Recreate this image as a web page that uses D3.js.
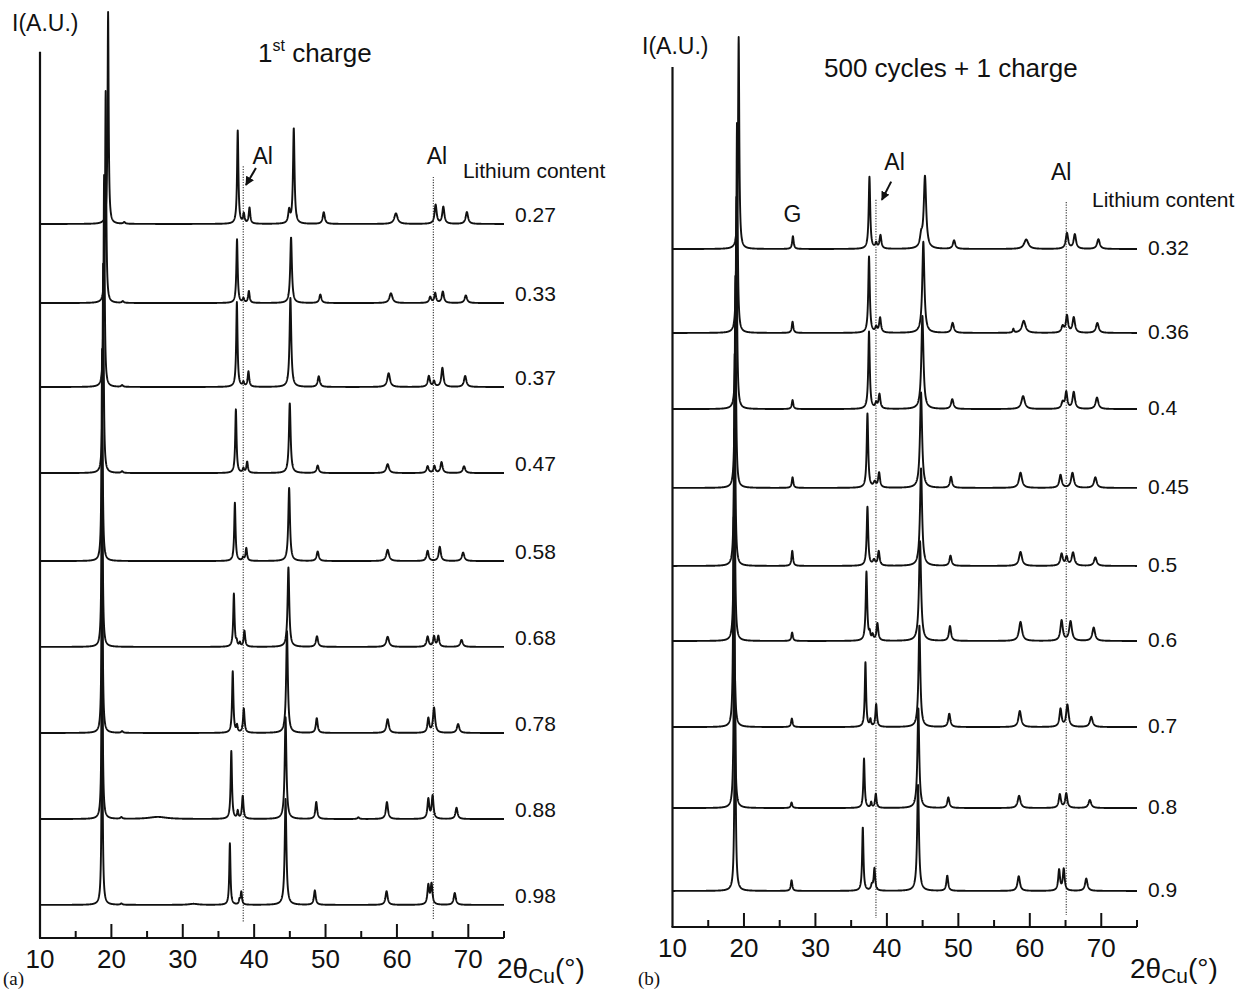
<!DOCTYPE html>
<html>
<head>
<meta charset="utf-8">
<script src="https://cdn.jsdelivr.net/npm/d3@7"></script>
<style>
  body { margin: 0; background: #fff; }
  svg { display: block; }
  text { font-family: "Liberation Sans", Arial, Helvetica, sans-serif; fill: #111; }
</style>
</head>
<body>
<svg id="chart" width="1243" height="991"></svg>
<script>
// ---- data ----
// peaks: [2theta (deg), height (A.U.), fwhm (deg)]
const firstChargeLi = ["0.27", "0.33", "0.37", "0.47", "0.58", "0.68", "0.78", "0.88", "0.98"];
const firstChargeOffset = [336.8, 299.5, 259.9, 219.3, 177.8, 137.3, 96.7, 56.1, 15.6];
const firstChargePeaks = [
  [[19.54, 100, 0.18], [21.8, 0.8, 0.3], [37.7, 44, 0.22], [38.55, 4.5, 0.25], [39.35, 7.5, 0.25], [44.9, 6, 0.3], [45.55, 45, 0.25], [49.75, 5.5, 0.35], [59.86, 5, 0.55], [65.42, 9, 0.35], [66.5, 8, 0.35], [69.8, 5.6, 0.4]],
  [[19.2, 100, 0.18], [21.6, 0.8, 0.3], [37.6, 30, 0.22], [38.5, 2, 0.25], [39.26, 5.5, 0.25], [45.17, 31, 0.28], [49.27, 4, 0.35], [59.16, 4.6, 0.5], [64.66, 2.8, 0.35], [65.36, 4.6, 0.3], [66.43, 5.4, 0.35], [69.65, 3.6, 0.4]],
  [[18.98, 100, 0.18], [21.5, 0.8, 0.3], [37.58, 40, 0.22], [38.5, 2, 0.25], [39.2, 7.2, 0.25], [45.08, 42, 0.28], [49.05, 5, 0.35], [58.84, 6.5, 0.45], [64.47, 5.1, 0.35], [65.2, 2.6, 0.3], [66.37, 9, 0.35], [69.56, 5.2, 0.4]],
  [[18.85, 100, 0.18], [21.5, 0.8, 0.3], [37.44, 30, 0.22], [38.5, 2, 0.25], [39.02, 5.2, 0.25], [44.99, 33, 0.28], [48.9, 3.5, 0.35], [58.7, 4.2, 0.45], [64.3, 3.2, 0.35], [65.25, 3.3, 0.3], [66.25, 5.1, 0.35], [69.4, 3.2, 0.4]],
  [[18.7, 100, 0.18], [37.3, 27.5, 0.22], [38.45, 1.5, 0.25], [38.9, 6, 0.25], [44.9, 34.5, 0.28], [48.9, 4.5, 0.35], [58.7, 5.3, 0.45], [64.3, 4.8, 0.35], [66.0, 6.7, 0.35], [69.27, 4, 0.4]],
  [[18.7, 100, 0.18], [37.16, 25, 0.22], [37.55, 2, 0.2], [38.0, 1.8, 0.2], [38.64, 7.5, 0.25], [44.8, 37.5, 0.28], [48.8, 5, 0.35], [58.7, 4.8, 0.45], [64.3, 4.8, 0.35], [65.2, 4.8, 0.3], [65.8, 5, 0.3], [69.05, 3.3, 0.4]],
  [[18.7, 100, 0.18], [21.5, 0.8, 0.3], [37.0, 29, 0.22], [37.6, 3.2, 0.2], [38.55, 11.5, 0.25], [44.6, 48, 0.28], [48.77, 7, 0.3], [58.7, 6.5, 0.4], [64.4, 6.8, 0.3], [65.2, 11.8, 0.35], [68.57, 4.2, 0.4]],
  [[18.7, 100, 0.18], [21.4, 0.8, 0.3], [26.5, 1, 3], [36.8, 32, 0.22], [37.7, 3.5, 0.2], [38.4, 10.8, 0.25], [44.4, 48, 0.28], [48.7, 8, 0.3], [54.6, 0.8, 0.3], [58.6, 8, 0.35], [64.4, 9.3, 0.3], [65.0, 10.8, 0.3], [68.35, 5.3, 0.35]],
  [[18.7, 100, 0.18], [21.4, 0.6, 0.3], [31.5, 0.5, 1.5], [36.6, 29, 0.2], [37.95, 2.2, 0.2], [38.2, 6, 0.22], [44.4, 50, 0.28], [48.5, 6.8, 0.3], [58.55, 6.5, 0.35], [64.4, 9, 0.3], [64.85, 9.6, 0.3], [68.1, 5.6, 0.35]]
];

const cycledLi = ["0.32", "0.36", "0.4", "0.45", "0.5", "0.6", "0.7", "0.8", "0.9"];
const cycledOffset = [319.8, 280.2, 244.3, 207.1, 170.3, 134.9, 94.3, 56.1, 17.0];
const cycledPeaks = [
  [[19.26, 100, 0.2], [26.85, 6, 0.25], [37.56, 34, 0.25], [38.5, 2.5, 0.3], [39.1, 6.3, 0.3], [44.8, 5, 0.4], [45.33, 34, 0.4], [49.4, 4, 0.4], [59.5, 4.5, 0.7], [65.2, 7.4, 0.4], [66.3, 6.8, 0.4], [69.6, 4.6, 0.45]],
  [[19.03, 100, 0.2], [26.8, 5.3, 0.25], [37.5, 36, 0.25], [38.5, 2.5, 0.3], [39.05, 7, 0.3], [45.1, 43, 0.35], [49.2, 4.7, 0.4], [57.7, 1.8, 0.2], [59.15, 5.7, 0.6], [64.6, 3, 0.4], [65.2, 8, 0.35], [66.15, 7.2, 0.4], [69.45, 4.7, 0.45]],
  [[18.94, 100, 0.2], [26.8, 4.2, 0.25], [37.5, 36.5, 0.25], [38.5, 2.5, 0.3], [38.96, 6.8, 0.3], [44.97, 44, 0.35], [49.15, 4.6, 0.4], [59.06, 6.1, 0.55], [64.6, 3, 0.4], [65.1, 7.8, 0.35], [66.15, 7.9, 0.4], [69.4, 5.4, 0.45]],
  [[18.8, 100, 0.2], [26.8, 5, 0.25], [37.28, 35, 0.25], [38.3, 2.5, 0.4], [38.91, 7, 0.3], [44.78, 45, 0.35], [48.97, 5.2, 0.35], [58.7, 7.2, 0.5], [64.3, 6.1, 0.4], [65.97, 7.1, 0.45], [69.17, 5, 0.45]],
  [[18.7, 100, 0.2], [26.76, 7.1, 0.25], [37.28, 27.8, 0.25], [38.2, 2.5, 0.4], [38.86, 6.7, 0.3], [44.78, 46, 0.35], [48.9, 4.8, 0.35], [58.7, 6.6, 0.5], [64.45, 5.6, 0.4], [65.15, 4, 0.35], [66.05, 6.2, 0.45], [69.17, 4, 0.45]],
  [[18.66, 100, 0.2], [26.74, 4, 0.25], [37.14, 32.5, 0.25], [37.6, 3, 0.2], [38.0, 2.5, 0.25], [38.67, 8.2, 0.3], [44.64, 47, 0.35], [48.83, 7, 0.35], [58.7, 9, 0.5], [64.45, 9.6, 0.4], [65.7, 9.2, 0.45], [68.94, 6.3, 0.45]],
  [[18.57, 100, 0.2], [26.7, 4, 0.25], [37.0, 30.5, 0.22], [37.7, 3.2, 0.2], [38.5, 10.7, 0.25], [44.55, 48, 0.3], [48.73, 6.3, 0.35], [58.6, 7.6, 0.45], [64.3, 8.4, 0.35], [65.26, 10.4, 0.4], [68.6, 4.8, 0.45]],
  [[18.65, 100, 0.2], [26.66, 2.6, 0.25], [36.8, 23.3, 0.22], [37.8, 2.5, 0.2], [38.45, 6.6, 0.25], [44.4, 47, 0.3], [48.6, 5, 0.35], [58.5, 5.8, 0.45], [64.2, 6.4, 0.35], [65.1, 6.8, 0.35], [68.4, 3.8, 0.45]],
  [[18.75, 100, 0.2], [26.66, 5, 0.25], [36.63, 30, 0.22], [37.9, 2.5, 0.3], [38.26, 10.4, 0.25], [44.36, 50, 0.3], [48.45, 7.2, 0.3], [58.45, 7, 0.4], [64.1, 9.8, 0.3], [64.75, 10.2, 0.3], [67.9, 5.8, 0.4]]
];

const majorTicks = [10, 20, 30, 40, 50, 60, 70];
const minorTicks = [15, 25, 35, 45, 55, 65, 75];
const alAngles = [38.47, 65.1];

// ---- layout ----
const svg = d3.select("#chart");
const PX_PER_UNIT = 2.12;

const panels = [
  {
    li: firstChargeLi, offset: firstChargeOffset, peaks: firstChargePeaks,
    x0: 40, x1: 504, base: 938, top: 418,
    alSpan: [[364, 7.5], [359, 8.5]],
    alText: [[41.2, 365], [65.6, 365]],
    arrow: [[40.25, 363.2], [38.85, 355.2]],
    gText: null,
    lithium: [69.24, 358.5],
    labelX: 515, labelDy: -2,
    yLabel: [12, 31], letter: ["(a)", 3], xTitle: 497
  },
  {
    li: cycledLi, offset: cycledOffset, peaks: cycledPeaks,
    x0: 672.5, x1: 1137, base: 927, top: 405.7,
    alSpan: [[343, 4.2], [342, 5.7]],
    alText: [[41.07, 357], [64.4, 352.4]],
    arrow: [[40.6, 351.6], [39.3, 343]],
    gText: [26.8, 332.5],
    lithium: [68.7, 339.6],
    labelX: 1148, labelDy: 6,
    yLabel: [642, 54], letter: ["(b)", 638], xTitle: 1130
  }
];

svg.append("defs").append("marker")
    .attr("id", "arrowhead")
    .attr("viewBox", "0 0 10 10")
    .attr("refX", 9).attr("refY", 5)
    .attr("markerWidth", 4.5).attr("markerHeight", 4.5)
    .attr("orient", "auto")
  .append("path")
    .attr("d", "M0,0L10,5L0,10z")
    .attr("fill", "#111");

// sum of lorentzian peaks on top of the pattern offset
function profile(peaks, offset) {
  return d3.range(10, 75.0001, 0.02).map(t => {
    let v = offset;
    for (const [p, h, w] of peaks) {
      const g = w / 2;
      v += h * g * g / (g * g + (t - p) * (t - p));
    }
    return [t, v];
  });
}

for (const P of panels) {
  const x = d3.scaleLinear().domain([10, 75]).range([P.x0, P.x1]);
  const y = d3.scaleLinear().domain([0, 100]).range([P.base, P.base - 100 * PX_PER_UNIT]);
  const g = svg.append("g");

  // axes
  g.append("line")
      .attr("x1", x(10)).attr("x2", x(10))
      .attr("y1", y(0)).attr("y2", y(P.top))
      .attr("stroke", "#111").attr("stroke-width", 2.2);
  g.append("line")
      .attr("x1", x(10) - 1).attr("x2", x(75))
      .attr("y1", y(0)).attr("y2", y(0))
      .attr("stroke", "#111").attr("stroke-width", 2.2);

  g.append("g").selectAll("line")
    .data(majorTicks.slice(1))
    .join("line")
      .attr("x1", d => x(d)).attr("x2", d => x(d))
      .attr("y1", y(0)).attr("y2", y(0) - 14)
      .attr("stroke", "#111").attr("stroke-width", 2);
  g.append("g").selectAll("line")
    .data(minorTicks)
    .join("line")
      .attr("x1", d => x(d)).attr("x2", d => x(d))
      .attr("y1", y(0)).attr("y2", y(0) - 7)
      .attr("stroke", "#111").attr("stroke-width", 2);

  g.append("g").selectAll("text")
    .data(majorTicks)
    .join("text")
      .attr("x", d => x(d))
      .attr("y", y(0) + 30)
      .attr("text-anchor", "middle")
      .attr("font-size", 26)
      .text(d => d);

  // Al reference lines
  g.append("g").selectAll("line")
    .data(alAngles)
    .join("line")
      .attr("x1", d => x(d)).attr("x2", d => x(d))
      .attr("y1", (d, i) => y(P.alSpan[i][0]))
      .attr("y2", (d, i) => y(P.alSpan[i][1]))
      .attr("stroke", "#333")
      .attr("stroke-width", 1.1)
      .attr("stroke-dasharray", "1.2,1.4");

  // diffraction patterns
  const line = d3.line().x(d => x(d[0])).y(d => y(d[1]));
  g.append("g")
      .attr("fill", "none")
      .attr("stroke", "#111")
      .attr("stroke-width", 1.9)
      .attr("stroke-linejoin", "round")
    .selectAll("path")
    .data(P.peaks)
    .join("path")
      .attr("d", (d, i) => line(profile(d, P.offset[i])));

  // lithium content labels
  g.append("g").selectAll("text")
    .data(P.li)
    .join("text")
      .attr("x", P.labelX)
      .attr("y", (d, i) => y(P.offset[i]) + P.labelDy)
      .attr("font-size", 21)
      .text(d => d);

  g.append("text")
      .attr("x", x(P.lithium[0]))
      .attr("y", y(P.lithium[1]))
      .attr("font-size", 21)
      .text("Lithium content");

  g.selectAll(".al")
    .data(P.alText)
    .join("text")
      .attr("x", d => x(d[0]))
      .attr("y", d => y(d[1]))
      .attr("text-anchor", "middle")
      .attr("font-size", 23)
      .text("Al");

  g.append("line")
      .attr("x1", x(P.arrow[0][0])).attr("y1", y(P.arrow[0][1]))
      .attr("x2", x(P.arrow[1][0])).attr("y2", y(P.arrow[1][1]))
      .attr("stroke", "#111").attr("stroke-width", 2)
      .attr("marker-end", "url(#arrowhead)");

  if (P.gText) {
    g.append("text")
        .attr("x", x(P.gText[0]))
        .attr("y", y(P.gText[1]))
        .attr("text-anchor", "middle")
        .attr("font-size", 23)
        .text("G");
  }

  g.append("text")
      .attr("x", P.yLabel[0]).attr("y", P.yLabel[1])
      .attr("font-size", 23)
      .text("I(A.U.)");

  const xt = g.append("text")
      .attr("x", P.xTitle).attr("y", 978)
      .attr("font-size", 28);
  xt.append("tspan").text("2θ");
  xt.append("tspan").attr("font-size", 21).attr("dy", 5).text("Cu");
  xt.append("tspan").attr("dy", -5).text("(°)");

  g.append("text")
      .attr("x", P.letter[1]).attr("y", 985)
      .attr("font-size", 19)
      .style("font-family", "'Liberation Serif', 'Times New Roman', serif")
      .text(P.letter[0]);
}

// titles
const t1 = svg.append("text").attr("x", 258).attr("y", 62).attr("font-size", 26);
t1.append("tspan").text("1");
t1.append("tspan").attr("font-size", 16).attr("dy", -11).text("st");
t1.append("tspan").attr("dy", 11).text(" charge");

svg.append("text")
    .attr("x", 824).attr("y", 77)
    .attr("font-size", 26)
    .text("500 cycles + 1 charge");
</script>
</body>
</html>
